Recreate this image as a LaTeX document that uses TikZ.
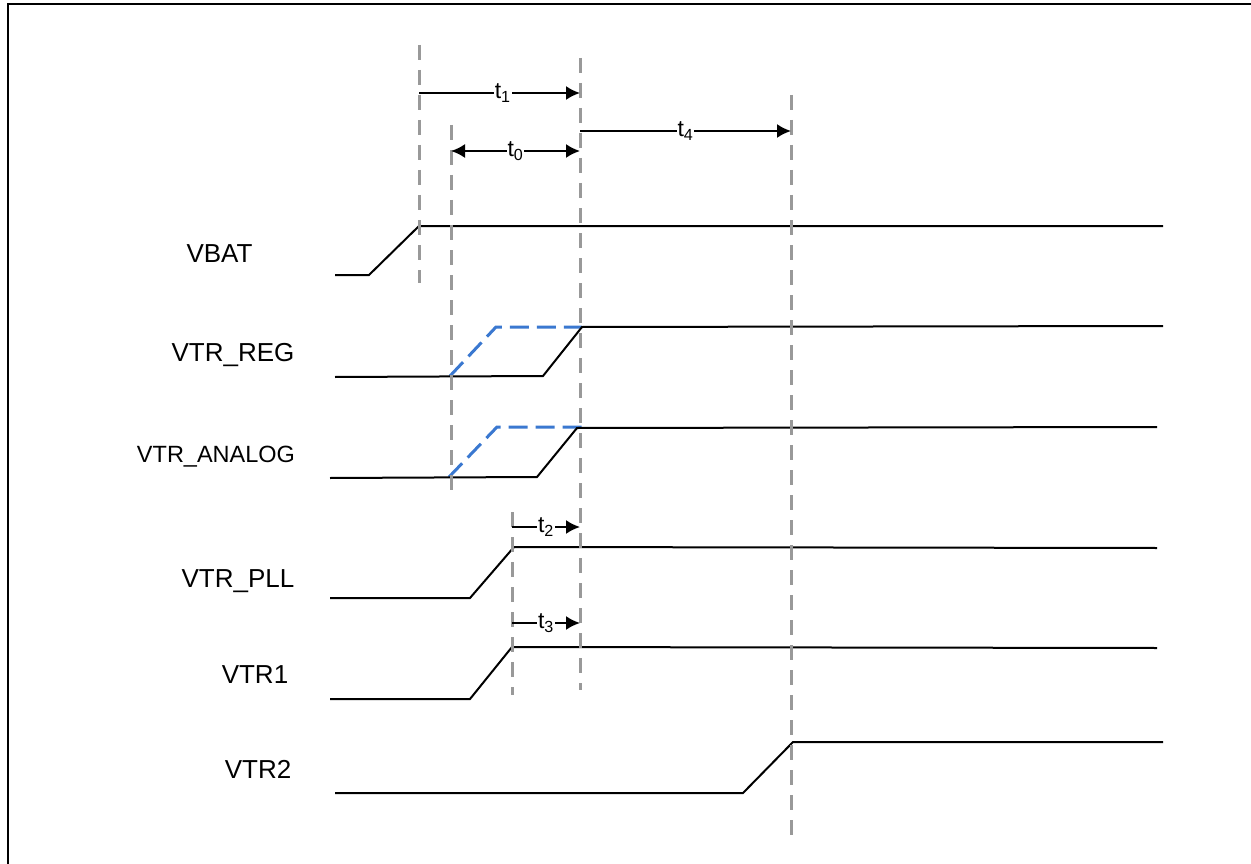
\documentclass[tikz,border=0pt]{standalone}
\usepackage{fontspec}
\setmainfont{Liberation Sans}
\usetikzlibrary{arrows.meta}
\definecolor{guide}{HTML}{999999}
\definecolor{bluesig}{HTML}{3A78D0}
\tikzset{
  sig/.style={line width=2pt, black, line join=miter},
  guideline/.style={line width=3pt, guide, dash pattern=on 15pt off 10pt},
  bluedash/.style={line width=3pt, bluesig, dash pattern=on 19pt off 8pt},
  siglabel/.style={font=\fontsize{26}{30}\selectfont, inner sep=0pt, anchor=base},
  tlabel/.style={font=\fontsize{23}{27}\selectfont, fill=white, inner sep=1pt},
  tarrow/.style={line width=2pt, -{Latex[length=14pt,width=14pt]}},
  tdarrow/.style={line width=2pt, {Latex[length=14pt,width=14pt]}-{Latex[length=14pt,width=14pt]}},
  frame/.style={line width=2.2pt, black}
}
\begin{document}
\begin{tikzpicture}[x=1pt,y=-1pt]
\useasboundingbox (0,0) rectangle (1251,864);
% frame (top and left edges visible)
\coordinate (fTL) at (8,4);
\coordinate (fTR) at (1251,4);
\coordinate (fBL) at (8,864);
\draw[frame] (fTR) -- (fTL) -- (fBL);

% guide coordinates
\coordinate (g1a) at (419,45);  \coordinate (g1b) at (419,283);
\coordinate (g0a) at (451,125); \coordinate (g0b) at (451,495);
\coordinate (gma) at (580,58);  \coordinate (gmb) at (580,690);
\coordinate (g2a) at (512,512); \coordinate (g2b) at (512,695);
\coordinate (g4a) at (791,95);  \coordinate (g4b) at (791,842);

% signal labels
\node[siglabel] (lVBAT) at (219.5,262) {VBAT};
\node[siglabel] (lREG) at (233,361) {VTR\_REG};
\node[siglabel, font=\fontsize{23.5}{28}\selectfont] (lANA) at (216,462) {VTR\_ANALOG};
\node[siglabel] (lPLL) at (238,587) {VTR\_PLL};
\node[siglabel] (lV1) at (255,683) {VTR1};
\node[siglabel] (lV2) at (258,778) {VTR2};

% blue dashed alternative ramps
\coordinate (bR0) at (450,376); \coordinate (bR1) at (496,327); \coordinate (bR2) at (582,327);
\coordinate (bA0) at (449,477); \coordinate (bA1) at (497,427); \coordinate (bA2) at (582,427);
\draw[bluedash] (bR0) -- (bR1) -- (bR2);
\draw[bluedash] (bA0) -- (bA1) -- (bA2);

% waveforms
\coordinate (vb0) at (335,275); \coordinate (vb1) at (369,275); \coordinate (vb2) at (419,226); \coordinate (vb3) at (1163,226);
\draw[sig] (vb0) -- (vb1) -- (vb2) -- (vb3);
\coordinate (vr0) at (335,377); \coordinate (vr1) at (543,376); \coordinate (vr2) at (582,327); \coordinate (vr3) at (1163,326);
\draw[sig] (vr0) -- (vr1) -- (vr2) -- (vr3);
\coordinate (va0) at (330,478); \coordinate (va1) at (537,477); \coordinate (va2) at (577,428); \coordinate (va3) at (1157,427);
\draw[sig] (va0) -- (va1) -- (va2) -- (va3);
\coordinate (vp0) at (330,598); \coordinate (vp1) at (470,598); \coordinate (vp2) at (514,547); \coordinate (vp3) at (1157,548);
\draw[sig] (vp0) -- (vp1) -- (vp2) -- (vp3);
\coordinate (v10) at (330,699); \coordinate (v11) at (470,699); \coordinate (v12) at (512,647); \coordinate (v13) at (1157,648);
\draw[sig] (v10) -- (v11) -- (v12) -- (v13);
\coordinate (v20) at (335,793); \coordinate (v21) at (743,793); \coordinate (v22) at (793,742); \coordinate (v23) at (1163,742);
\draw[sig] (v20) -- (v21) -- (v22) -- (v23);

% guide lines
\draw[guideline] (g1a) -- (g1b);
\draw[guideline] (g0a) -- (g0b);
\draw[guideline] (gma) -- (gmb);
\draw[guideline] (g2a) -- (g2b);
\draw[guideline] (g4a) -- (g4b);

% timing arrows
\coordinate (t1s) at (419,93);  \coordinate (t1e) at (580,93);
\coordinate (t0s) at (451,151); \coordinate (t0e) at (580,151);
\coordinate (t4s) at (580,131); \coordinate (t4e) at (791,131);
\coordinate (t2s) at (512,527); \coordinate (t2e) at (580,527);
\coordinate (t3s) at (512,623); \coordinate (t3e) at (580,623);
\draw[tarrow] (t1s) -- node[tlabel, pos=0.52] (lt1) {t\textsubscript{1}} (t1e);
\draw[tdarrow] (t0s) -- node[tlabel, pos=0.5] (lt0) {t\textsubscript{0}} (t0e);
\draw[tarrow] (t4s) -- node[tlabel, pos=0.5] (lt4) {t\textsubscript{4}} (t4e);
\draw[tarrow] (t2s) -- node[tlabel, pos=0.5] (lt2) {t\textsubscript{2}} (t2e);
\draw[tarrow] (t3s) -- node[tlabel, pos=0.5] (lt3) {t\textsubscript{3}} (t3e);
\end{tikzpicture}
\end{document}
